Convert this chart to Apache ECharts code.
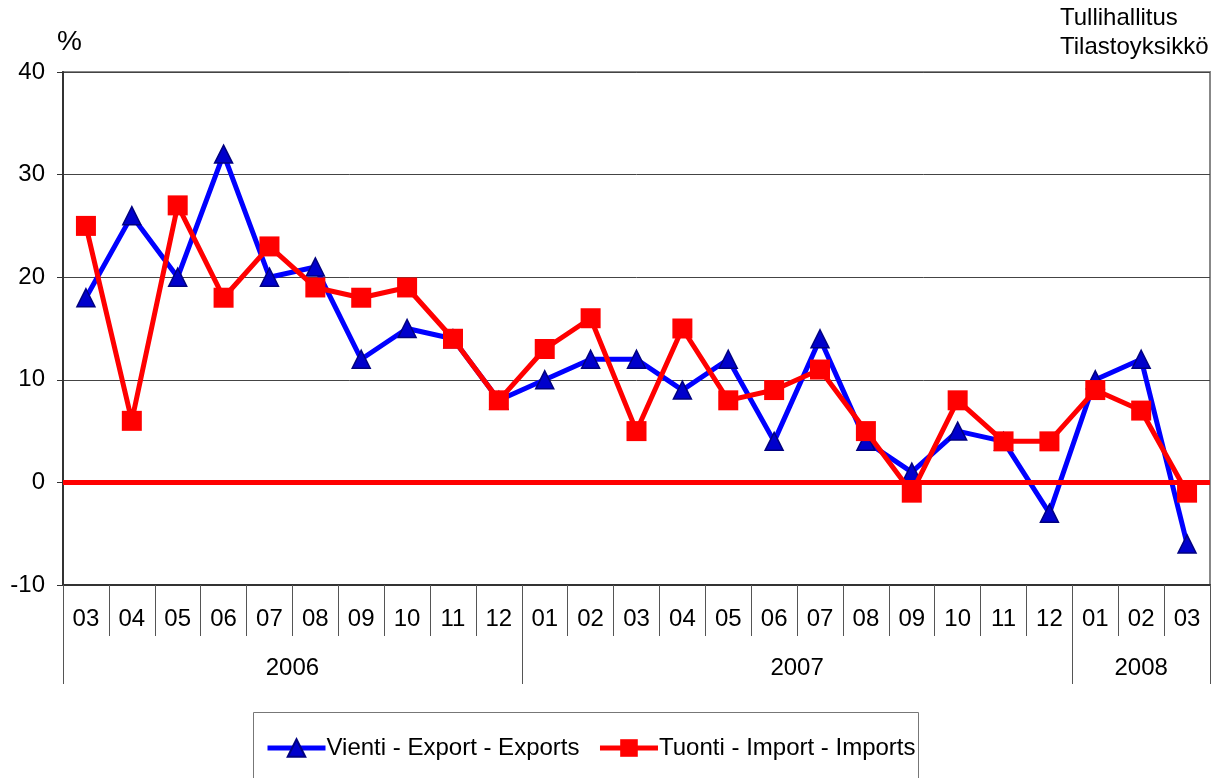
<!DOCTYPE html>
<html><head><meta charset="utf-8">
<script src="https://cdn.jsdelivr.net/npm/echarts@6/dist/echarts.min.js"></script>
<style>html,body{margin:0;padding:0;background:#fff}#c{width:1220px;height:778px}</style>
</head><body><div id="c"></div>
<script>
const months = ['03','04','05','06','07','08','09','10','11','12','01','02','03','04','05','06','07','08','09','10','11','12','01','02','03'];
const years = ['2006','2007','2008'];
const yearStarts = [0, 10, 22, 25];
const exportsData = [18,26,20,32,20,21,12,15,14,8,10,12,12,9,12,4,14,4,1,5,4,-3,10,12,-6];
const importsData = [25,6,27,18,23,19,18,19,14,8,13,16,5,15,8,9,11,5,-1,8,4,4,9,7,-1];
const yTicks = [-10, 0, 10, 20, 30, 40];
const seriesNames = ['Vienti - Export - Exports', 'Tuonti - Import - Imports'];

const yearCenters = years.map((y, i) => (yearStarts[i] + yearStarts[i + 1]) / 2);
const FONT = 'Liberation Sans, Arial, sans-serif';
const FS = 24;
const chart = echarts.init(document.getElementById('c'));
chart.setOption({
  animation: false,
  textStyle: { fontFamily: FONT, color: '#000' },
  grid: { left: 63, right: 10, top: 72, bottom: 193, show: true, borderColor: '#888', borderWidth: 2, backgroundColor: '#fff' },
  xAxis: [{
    type: 'category', data: months, boundaryGap: true, position: 'bottom',
    axisLine: { onZero: false, lineStyle: { color: '#333', width: 2 } },
    axisTick: { show: true, interval: 0, length: 51, lineStyle: { color: '#555', width: 1 } },
    axisLabel: { interval: 0, fontSize: FS, color: '#000', margin: 22, fontFamily: FONT },
    splitLine: { show: false }
  }, {
    type: 'value', min: 0, max: 25, position: 'bottom', offset: 51,
    axisLine: { show: false, onZero: false },
    axisTick: { show: true, customValues: yearStarts, length: 48, lineStyle: { color: '#555', width: 1 } },
    axisLabel: { customValues: yearCenters, fontSize: FS, color: '#000', margin: 20, fontFamily: FONT,
      formatter: v => { const i = yearCenters.indexOf(v); return i >= 0 ? years[i] : ''; } },
    splitLine: { show: false }
  }],
  yAxis: {
    type: 'value', min: yTicks[0], max: yTicks[yTicks.length - 1], interval: 10,
    axisLine: { show: true, onZero: false, lineStyle: { color: '#333', width: 2 } },
    axisTick: { show: true, length: 6, lineStyle: { color: '#333' } },
    axisLabel: { fontSize: FS, color: '#000', margin: 18, fontFamily: FONT },
    splitLine: { show: true, lineStyle: { color: '#444', width: 1 } }
  },
  legend: {
    left: 260, top: 731, itemWidth: 58, itemHeight: 22, itemGap: 18,
    lineStyle: { width: 5 },
    textStyle: { fontSize: FS, color: '#000', fontFamily: FONT, padding: [0, 0, 0, -4] },
    data: seriesNames
  },
  graphic: [
    { type: 'rect', shape: { x: 253.5, y: 712.5, width: 665, height: 80 }, style: { fill: 'none', stroke: '#777', lineWidth: 1 }, z: 0 },
    { type: 'text', left: 57, top: 28, style: { text: '%', font: '28px ' + FONT, fill: '#000' } },
    { type: 'text', left: 1060, top: 4, style: { text: 'Tullihallitus\nTilastoyksikkö', font: FS + 'px ' + FONT, fill: '#000', lineHeight: 29 } }
  ],
  series: [{
    name: seriesNames[0], type: 'line', data: exportsData,
    symbol: 'triangle', symbolSize: 18, z: 3,
    lineStyle: { color: '#0000ff', width: 5 },
    itemStyle: { color: '#0000cc', borderColor: '#000080', borderWidth: 1.5 }
  }, {
    name: seriesNames[1], type: 'line', data: importsData,
    symbol: 'rect', symbolSize: 20, z: 4,
    lineStyle: { color: '#ff0000', width: 5 },
    itemStyle: { color: '#ff0000', borderColor: '#ff0000', borderWidth: 0 },
    markLine: {
      silent: true, symbol: 'none', label: { show: false }, z: 5,
      lineStyle: { color: '#ff0000', width: 5, type: 'solid' },
      data: [{ yAxis: 0 }]
    }
  }]
});
</script></body></html>
